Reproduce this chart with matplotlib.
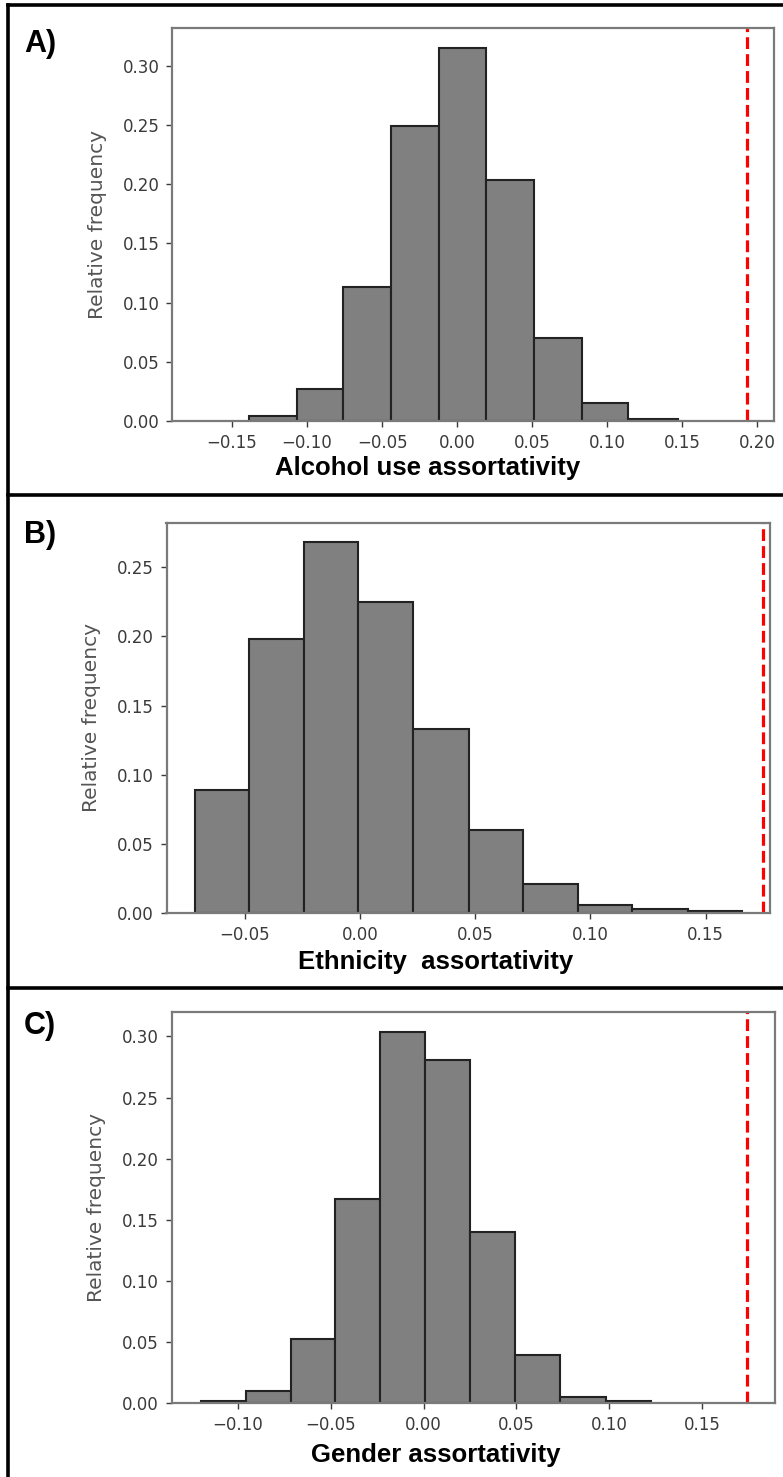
import numpy as np
import matplotlib.pyplot as plt
from matplotlib.lines import Line2D

# bin edges and relative frequencies
alcoholEdges = [-0.139, -0.107, -0.076, -0.044, -0.012, 0.019, 0.051, 0.083, 0.114, 0.147]
alcoholFreq = [0.004, 0.027, 0.113, 0.249, 0.315, 0.204, 0.070, 0.015, 0.002]
alcoholObserved = 0.193

ethnicityEdges = [-0.0717, -0.0483, -0.0243, -0.0009, 0.023, 0.0472, 0.0707, 0.0948, 0.1183, 0.1424, 0.1659]
ethnicityFreq = [0.089, 0.198, 0.268, 0.225, 0.133, 0.060, 0.021, 0.006, 0.0026, 0.0017]
ethnicityObserved = 0.175

genderEdges = [-0.1194, -0.0952, -0.071, -0.0476, -0.0234, 0.0008, 0.025, 0.0492, 0.0734, 0.098, 0.1222]
genderFreq = [0.002, 0.010, 0.052, 0.167, 0.304, 0.281, 0.140, 0.039, 0.0046, 0.002]
genderObserved = 0.174

panelLabels = ['A)', 'B)', 'C)']
xLabels = ['Alcohol use assortativity', 'Ethnicity  assortativity', 'Gender assortativity']
xTicks = [[-0.15, -0.10, -0.05, 0.00, 0.05, 0.10, 0.15, 0.20],
          [-0.05, 0.00, 0.05, 0.10, 0.15],
          [-0.10, -0.05, 0.00, 0.05, 0.10, 0.15]]
yTicks = [[0.00, 0.05, 0.10, 0.15, 0.20, 0.25, 0.30],
          [0.00, 0.05, 0.10, 0.15, 0.20, 0.25],
          [0.00, 0.05, 0.10, 0.15, 0.20, 0.25, 0.30]]
xLims = [(-0.19, 0.211), (-0.084, 0.178), (-0.1355, 0.189)]
yLims = [(0, 0.332), (0, 0.282), (0, 0.32)]

W, H = 783, 1477
fig = plt.figure(figsize=(W / 100, H / 100), dpi=100)

# axes boxes in pixels: left, top, right, bottom
axBoxes = [(172, 28, 774, 421), (166.5, 523, 770, 913), (171.5, 1012, 775, 1403)]
labelY = [52, 543, 1034]
xLabelY = [475, 969, 1462]
xLabelX = [428, 436, 436]

data = [(alcoholEdges, alcoholFreq, alcoholObserved),
        (ethnicityEdges, ethnicityFreq, ethnicityObserved),
        (genderEdges, genderFreq, genderObserved)]

for i, (edges, freq, observed) in enumerate(data):
    l, t, r, b = axBoxes[i]
    ax = fig.add_axes([l / W, 1 - b / H, (r - l) / W, (b - t) / H])
    edges = np.array(edges)
    ax.bar(edges[:-1], freq, width=np.diff(edges), align='edge',
           color='#808080', edgecolor='#222222', linewidth=1.5)
    ax.axvline(observed, color='red', linestyle='--', linewidth=2.3)
    ax.set_xlim(*xLims[i])
    ax.set_ylim(*yLims[i])
    ax.set_xticks(xTicks[i])
    ax.set_yticks(yTicks[i])
    ax.set_xticklabels([f'{v:.2f}'.replace('-', '\u2212') for v in xTicks[i]])
    ax.set_yticklabels([f'{v:.2f}' for v in yTicks[i]])
    ax.tick_params(labelsize=12, colors='#3a3a3a', length=4, width=1, pad=5)
    for s in ax.spines.values():
        s.set_color('#7a7a7a')
        s.set_linewidth(1.6)
    ax.set_ylabel('Relative frequency', fontsize=14.5, color='#555555')
    ax.yaxis.set_label_coords(-0.108, 0.5)

    fig.text(24 / W, 1 - labelY[i] / H, panelLabels[i], fontsize=22, fontweight='bold',
             family='Liberation Sans', ha='left', va='baseline')
    fig.text(xLabelX[i] / W, 1 - xLabelY[i] / H, xLabels[i], fontsize=18.5, fontweight='bold',
             family='Liberation Sans', ha='center', va='baseline')

# panel borders: left edge, top edge and two separators
lineKw = dict(color='black', linewidth=2.6, transform=fig.transFigure)
fig.add_artist(Line2D([8 / W, 8 / W], [1 - 5 / H, 0], **lineKw))
for yy in [5, 495, 988]:
    fig.add_artist(Line2D([8 / W, 1], [1 - yy / H, 1 - yy / H], **lineKw))

fig.savefig('out.png', dpi=100)
